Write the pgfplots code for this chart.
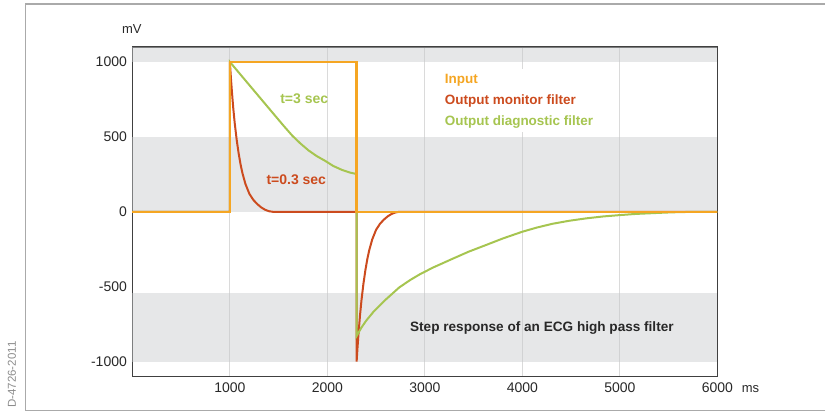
\documentclass[border=0pt]{standalone}
\usepackage{pgfplots}
\pgfplotsset{compat=1.18}
\usepackage{fontspec}
\setmainfont{Liberation Sans}
\definecolor{inorange}{RGB}{245,166,35}
\definecolor{monred}{RGB}{204,75,30}
\definecolor{diagreen}{RGB}{166,197,80}
\definecolor{bandgray}{RGB}{200,202,204}
\definecolor{gridgray}{RGB}{218,218,218}
\definecolor{framegray}{RGB}{170,170,170}
\definecolor{txtdark}{RGB}{40,40,40}
\begin{document}
\begin{tikzpicture}
\begin{axis}[
  scale only axis, width=585.5pt, height=330pt,
  clip=false,
  xmin=0, xmax=6000, ymin=-1100, ymax=1100,
  xtick={1000,2000,3000,4000,5000,6000},
  ytick={-1000,-500,0,500,1000},
  xmajorgrids, grid style={gridgray, line width=1pt},
  major tick length=0pt,
  axis line style={draw=black!75, line width=1.2pt},
  /pgf/number format/assume math mode=true,
  /pgf/number format/set thousands separator={},
  ticklabel style={font=\fontsize{14}{16}\selectfont, text=txtdark},
  yticklabel style={xshift=-2pt},
  xticklabel style={yshift=-3pt},
  legend style={at={(0.527,0.933)}, anchor=north west, draw=none, fill=white,
    font=\bfseries\fontsize{13.5}{16}\selectfont, row sep=5.5pt, inner xsep=2pt, inner ysep=3pt},
  legend cell align=left,
]
\path (rel axis cs:-0.2263,-0.1121) rectangle (rel axis cs:1.1845,1.1424);
\draw[framegray, line width=1.5pt] (rel axis cs:1.1845,-0.103) -- (rel axis cs:-0.1827,-0.103) -- (rel axis cs:-0.1827,1.1303) -- (rel axis cs:1.1845,1.1303);
\node[rotate=90, font=\fontsize{11.5}{13}\selectfont, text=black!45, anchor=center] at (rel axis cs:-0.2058,0.006) {D-4726-2011};
\node[font=\fontsize{13}{15}\selectfont, text=txtdark] at (rel axis cs:-0.0009,1.0545) {mV};
\node[font=\fontsize{13}{15}\selectfont, text=txtdark, anchor=west] at (rel axis cs:1.0359,-0.0364) {ms};

\addplot[fill=bandgray, fill opacity=0.45, draw=none, forget plot] coordinates {(0,1000)(6000,1000)(6000,1100)(0,1100)};
\addplot[fill=bandgray, fill opacity=0.45, draw=none, forget plot] coordinates {(0,0)(6000,0)(6000,500)(0,500)};
\addplot[fill=bandgray, fill opacity=0.45, draw=none, forget plot] coordinates {(0,-1000)(6000,-1000)(6000,-545)(0,-545)};

\addlegendimage{empty legend}\addlegendentry{\textcolor{inorange}{Input}}
\addlegendimage{empty legend}\addlegendentry{\textcolor{monred}{Output monitor filter}}
\addlegendimage{empty legend}\addlegendentry{\textcolor{diagreen}{Output diagnostic filter}}

% monitor filter
\addplot[monred, line width=2pt, forget plot] coordinates {
(0,0)(1000,0)(1000,1000)(1010,900)(1020,810)(1035,690)(1050,590)(1070,480)(1090,390)(1110,315)(1130,255)(1160,185)(1200,120)(1240,80)(1280,52)(1320,30)(1360,14)(1400,4)(1440,0)(2300,0)
(2300,-1000)(2310,-900)(2320,-810)(2335,-690)(2350,-590)(2370,-480)(2390,-390)(2410,-315)(2430,-255)(2460,-185)(2500,-120)(2540,-80)(2580,-52)(2620,-30)(2660,-14)(2700,-4)(2740,0)(6000,0)};
% diagnostic filter
\addplot[diagreen, line width=2pt, forget plot] coordinates {
(0,0)(1000,0)(1000,1000)(1150,884)(1300,768)(1450,652)(1550,575)(1640,508)(1720,458)(1806,410)(1890,372)(1977,340)(2060,306)(2148,280)(2230,262)(2300,252)
(2300,-829)(2350,-772)(2400,-725)(2476,-665)(2600,-585)(2737,-505)(2850,-455)(2946,-418)(3084,-372)(3286,-313)(3450,-266)(3626,-222)(3800,-178)(4000,-133)(4150,-105)(4309,-80)(4480,-60)(4653,-44)(4830,-31)(5000,-22)(5170,-14)(5340,-9)(5480,-5)(5615,-2)(5800,0)(6000,0)};
% input
\addplot[inorange, line width=2.5pt, forget plot] coordinates {
(0,0)(1000,0)(1000,1000)(2300,1000)(2300,0)(6000,0)};

\node[anchor=west, text=diagreen, font=\bfseries\fontsize{14}{16}\selectfont] at (axis cs:1481,753) {t=3 sec};
\node[anchor=west, text=monred, font=\bfseries\fontsize{14}{16}\selectfont] at (axis cs:1340,213) {t=0.3 sec};
\node[anchor=west, text=txtdark, font=\bfseries\fontsize{13.6}{16}\selectfont] at (axis cs:2813,-773) {Step response of an ECG high pass filter};
\end{axis}
\end{tikzpicture}
\end{document}
